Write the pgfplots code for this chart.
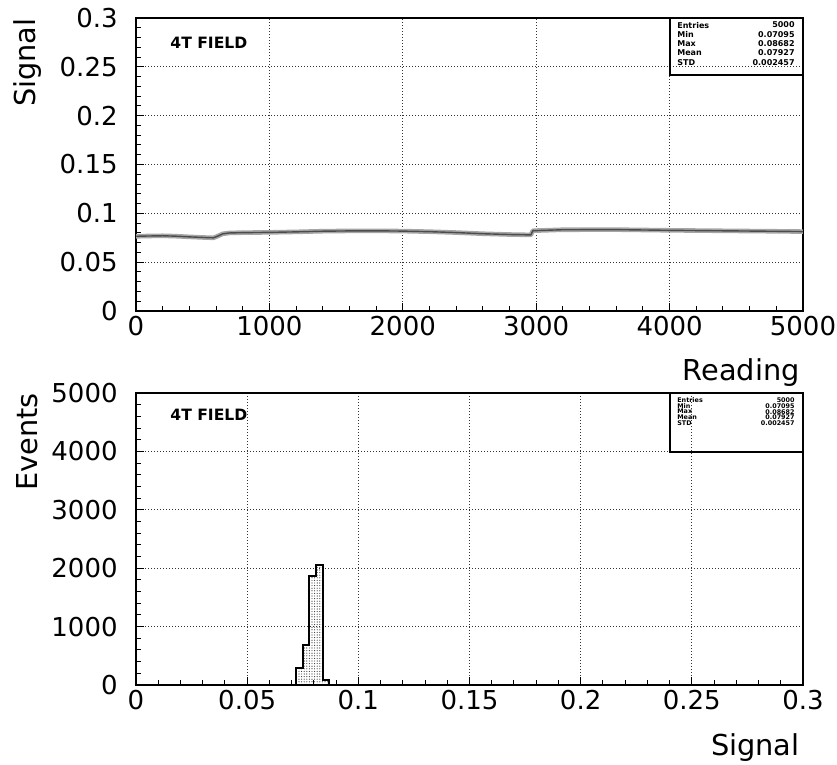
\documentclass[border=0pt]{standalone}
\usepackage{fontspec}
\setmainfont{DejaVu Sans}
\usepackage{pgfplots}
\usepackage{pgfplotstable}
\pgfplotsset{compat=1.18}
\usetikzlibrary{patterns.meta}

\newcommand\labelfont{\fontsize{14.4}{14.4}\selectfont}
\newcommand\tickfont{\fontsize{13}{13}\selectfont}
\newcommand\tagfont{\fontsize{7.8}{7.8}\selectfont\bfseries}

% Signal per reading (centre of the noise band)
\pgfplotstableread{
r     v
0     0.0765
100   0.0768
200   0.0770
300   0.0766
400   0.0759
500   0.0753
580   0.0749
610   0.0765
650   0.0790
700   0.0799
800   0.0802
1000  0.0805
1200  0.0810
1400  0.0817
1600  0.0820
1800  0.0821
2000  0.0818
2200  0.0812
2400  0.0803
2600  0.0791
2800  0.0783
2960  0.0779
2975  0.0822
3200  0.0832
3600  0.0833
4000  0.0826
4400  0.0821
4800  0.0816
5000  0.0813
}\series

% Histogram of the signal: lower bin edge and entries (bin width 0.003);
% the last row only closes the outline at the upper edge of the last bin
\pgfplotstableread{
lo     n
0.072  290
0.075  690
0.078  1860
0.081  2060
0.084  90
0.087  90
}\hist

\pgfplotsset{
  pawframe/.style={
    scale only axis, width=333.5pt,
    axis line style={line width=1pt},
    tick align=inside, tick pos=left,
    major tick length=4pt, minor tick length=2.5pt,
    tick style={black, line width=0.5pt},
    grid=major,
    major grid style={black!80, line width=0.5pt, dash pattern=on 0.5pt off 1pt},
    tick label style={font=\tickfont},
    /pgf/number format/assume math mode=true,
    /pgf/number format/1000 sep={},
    scaled ticks=false,
    xticklabel style={inner sep=0pt, yshift=-2.5pt},
    yticklabel style={inner sep=0pt, xshift=-9pt},
  },
}

\begin{document}
\begin{tikzpicture}
\useasboundingbox (0,0) rectangle (418.5pt,382.5pt);

% ---- signal versus reading ----
\begin{axis}[pawframe, at={(68pt,227pt)}, anchor=south west, height=146.5pt,
  xmin=0, xmax=5000, ymin=0, ymax=0.3,
  xtick={0,1000,2000,3000,4000,5000}, minor x tick num=4,
  ytick={0,0.05,0.1,0.15,0.2,0.25,0.3}, minor y tick num=4,
  y tick label style={/pgf/number format/.cd, fixed, precision=2}]
  \addplot[gray!70, line width=2.3pt, line join=round] table[x=r, y=v]{\series};
  \addplot[black!70, line width=0.7pt, line join=round] table[x=r, y=v]{\series};
  \node[anchor=west, inner sep=0pt, font=\tagfont] at (rel axis cs:0.051,0.915) {4T FIELD};
  % statistics box
  \draw[line width=1pt] (rel axis cs:0.8006,1) -- (rel axis cs:0.8006,0.805) -- (rel axis cs:1,0.805);
  \begin{scope}[every node/.style={inner sep=0pt, font=\fontsize{4}{4}\selectfont\bfseries}]
    \node[anchor=west] at (rel axis cs:0.811,0.976) {Entries};
    \node[anchor=west] at (rel axis cs:0.811,0.944) {Min};
    \node[anchor=west] at (rel axis cs:0.811,0.913) {Max};
    \node[anchor=west] at (rel axis cs:0.811,0.882) {Mean};
    \node[anchor=west] at (rel axis cs:0.811,0.849) {STD};
    \node[anchor=east] at (rel axis cs:0.988,0.976) {5000};
    \node[anchor=east] at (rel axis cs:0.988,0.944) {0.07095};
    \node[anchor=east] at (rel axis cs:0.988,0.913) {0.08682};
    \node[anchor=east] at (rel axis cs:0.988,0.882) {0.07927};
    \node[anchor=east] at (rel axis cs:0.988,0.849) {0.002457};
  \end{scope}
\end{axis}

% ---- distribution of the signal ----
\begin{axis}[pawframe, at={(68pt,40pt)}, anchor=south west, height=146pt,
  xmin=0, xmax=0.3, ymin=0, ymax=5000,
  xtick={0,0.05,0.1,0.15,0.2,0.25,0.3}, minor x tick num=4,
  ytick={0,1000,2000,3000,4000,5000}, minor y tick num=4,
  x tick label style={/pgf/number format/.cd, fixed, precision=2}]
  \addplot[const plot, black, line width=1pt,
    pattern={Dots[distance=1.3pt, radius=0.28pt]}, pattern color=black!80]
    table[x=lo, y=n]{\hist} \closedcycle;
  \node[anchor=west, inner sep=0pt, font=\tagfont] at (rel axis cs:0.051,0.925) {4T FIELD};
  % statistics box
  \draw[line width=1pt] (rel axis cs:0.8006,1) -- (rel axis cs:0.8006,0.798) -- (rel axis cs:1,0.798);
  \begin{scope}[every node/.style={inner sep=0pt, font=\fontsize{3.2}{3.2}\selectfont\bfseries}]
    \node[anchor=west] at (rel axis cs:0.811,0.976) {Entries};
    \node[anchor=west] at (rel axis cs:0.811,0.956) {Min};
    \node[anchor=west] at (rel axis cs:0.811,0.936) {Max};
    \node[anchor=west] at (rel axis cs:0.811,0.916) {Mean};
    \node[anchor=west] at (rel axis cs:0.811,0.896) {STD};
    \node[anchor=east] at (rel axis cs:0.988,0.976) {5000};
    \node[anchor=east] at (rel axis cs:0.988,0.956) {0.07095};
    \node[anchor=east] at (rel axis cs:0.988,0.936) {0.08682};
    \node[anchor=east] at (rel axis cs:0.988,0.916) {0.07927};
    \node[anchor=east] at (rel axis cs:0.988,0.896) {0.002457};
  \end{scope}
\end{axis}

% axis titles
\node[rotate=90, anchor=north east, inner sep=0pt, font=\labelfont] at (6.5pt,373.5pt) {Signal};
\node[rotate=90, anchor=north east, inner sep=0pt, font=\labelfont] at (8pt,186pt) {Events};
\node[anchor=base east, inner sep=0pt, font=\labelfont] at (400pt,192pt) {Reading};
\node[anchor=base east, inner sep=0pt, font=\labelfont] at (400pt,4.5pt) {Signal};
\end{tikzpicture}
\end{document}
